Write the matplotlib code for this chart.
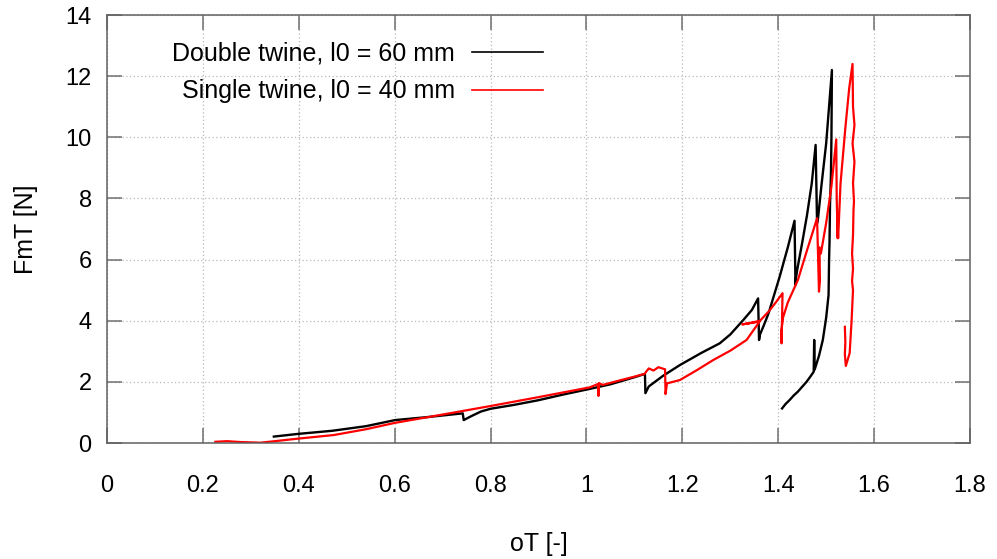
import matplotlib
matplotlib.use("Agg")
import matplotlib.pyplot as plt

plt.rcParams['font.family'] = ['Liberation Sans', 'DejaVu Sans']

# ---- data ----
double_x = [0.348, 0.40, 0.47, 0.54, 0.601, 0.67, 0.742, 0.744, 0.76, 0.78, 0.80,
            0.85, 0.90, 0.95, 1.007, 1.05, 1.10, 1.122, 1.123, 1.13, 1.16, 1.195,
            1.24, 1.278, 1.30, 1.327, 1.345, 1.358, 1.360, 1.362, 1.37, 1.38,
            1.403, 1.42, 1.434, 1.436, 1.437, 1.44, 1.45, 1.46, 1.47, 1.478,
            1.481, 1.483, 1.486, 1.49, 1.50, 1.512, 1.511, 1.510, 1.508, 1.507,
            1.506, 1.505, 1.500, 1.493, 1.485, 1.476, 1.475, 1.474, 1.466, 1.459,
            1.450, 1.441, 1.432, 1.424, 1.415, 1.408]
double_y = [0.21, 0.30, 0.40, 0.55, 0.75, 0.85, 0.97, 0.75, 0.88, 1.03, 1.12,
            1.25, 1.40, 1.58, 1.77, 1.92, 2.15, 2.26, 1.63, 1.85, 2.20, 2.55,
            2.95, 3.26, 3.55, 4.02, 4.35, 4.73, 3.37, 3.55, 3.85, 4.25,
            5.44, 6.40, 7.27, 5.17, 5.40, 5.70, 6.55, 7.45, 8.50, 9.75,
            7.19, 7.35, 7.80, 8.40, 9.80, 12.20, 10.00, 8.80, 7.78, 6.60,
            5.93, 4.84, 4.10, 3.37, 2.85, 2.40, 3.37, 2.33, 2.15, 2.00,
            1.84, 1.68, 1.55, 1.41, 1.27, 1.13]

single_x = [0.226, 0.25, 0.28, 0.32, 0.35, 0.403, 0.473, 0.54, 0.601, 0.70, 0.80,
            0.90, 1.007, 1.024, 1.025, 1.026, 1.034, 1.07, 1.10, 1.121, 1.130,
            1.14, 1.150, 1.164, 1.165, 1.168, 1.195, 1.23, 1.264, 1.30, 1.334,
            1.361, 1.345, 1.325, 1.340, 1.362, 1.38, 1.395, 1.409, 1.407, 1.406,
            1.410, 1.42, 1.441, 1.46, 1.481, 1.483, 1.485, 1.487, 1.486, 1.489,
            1.50, 1.511, 1.521, 1.522, 1.524, 1.523, 1.525, 1.53, 1.54, 1.548,
            1.555, 1.556, 1.559, 1.555, 1.559, 1.556, 1.558, 1.557, 1.556, 1.554,
            1.556, 1.554, 1.556, 1.553, 1.549, 1.541, 1.539, 1.540, 1.539]
single_y = [0.04, 0.06, 0.03, 0.01, 0.06, 0.15, 0.26, 0.45, 0.66, 0.93, 1.21,
            1.50, 1.82, 1.93, 1.54, 1.96, 1.90, 2.05, 2.17, 2.26, 2.44,
            2.37, 2.48, 2.41, 1.60, 1.95, 2.06, 2.38, 2.71, 3.02, 3.37,
            3.97, 3.93, 3.88, 3.92, 4.00, 4.30, 4.60, 4.90, 3.26, 3.60,
            4.10, 4.60, 5.33, 6.30, 7.35, 6.20, 4.95, 5.30, 6.40, 6.20,
            7.20, 8.40, 9.93, 8.00, 6.70, 7.40, 6.70, 8.50, 10.30, 11.60,
            12.40, 11.00, 10.40, 9.80, 9.20, 8.50, 7.90, 7.60, 6.80, 6.20,
            5.70, 5.30, 5.00, 4.00, 2.94, 2.52, 2.90, 3.30, 3.80]

legend_labels = ["Double twine, l0 = 60 mm", "Single twine, l0 = 40 mm"]
xticks = [0, 0.2, 0.4, 0.6, 0.8, 1.0, 1.2, 1.4, 1.6, 1.8]
xtick_labels = ["0", "0.2", "0.4", "0.6", "0.8", "1", "1.2", "1.4", "1.6", "1.8"]
yticks = [0, 2, 4, 6, 8, 10, 12, 14]

fig = plt.figure(figsize=(9.97, 5.59), dpi=100)
ax = fig.add_axes([107/997, 1-443/559, (970-107)/997, (443-15)/559])

ax.plot(double_x, double_y, color='black', lw=1.7, label=legend_labels[0])
ax.plot(single_x, single_y, color='#ff0000', lw=1.6, label=legend_labels[1])

ax.set_xlim(0, 1.8)
ax.set_ylim(0, 14)
ax.set_xticks(xticks)
ax.set_xticklabels(xtick_labels)
ax.set_yticks(yticks)

ax.grid(True, color='#b8b8b8', linestyle=(0, (1, 2)), linewidth=0.9)
ax.set_axisbelow(True)

for s in ax.spines.values():
    s.set_color('#606060')
    s.set_linewidth(1.1)

ax.tick_params(axis='both', which='major', direction='in', length=11, width=1.1,
               color='#707070', top=True, right=True, labelsize=17,
               labelcolor='black')
ax.tick_params(axis='x', pad=23)
ax.tick_params(axis='y', pad=11)

ax.set_xlabel("oT [-]", fontsize=18, labelpad=25)
ax.set_ylabel("FmT [N]", fontsize=18, labelpad=20)

leg = ax.legend(loc='upper right', bbox_to_anchor=(0.505, 0.937), frameon=False,
                markerfirst=False, fontsize=18, handlelength=2.85,
                handletextpad=0.67, labelspacing=0.54, borderpad=0, borderaxespad=0)
for line in leg.get_lines():
    line.set_linewidth(1.2)

fig.savefig("out.png", dpi=100)
